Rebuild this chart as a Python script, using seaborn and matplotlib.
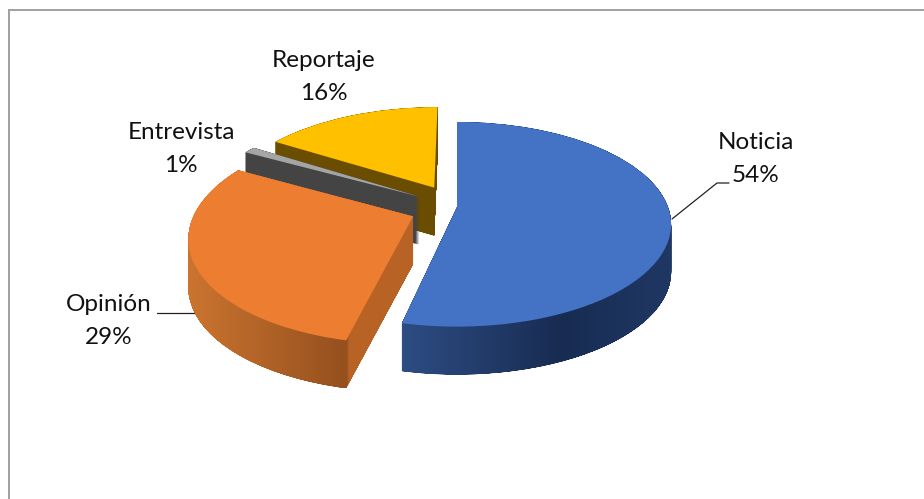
import numpy as np
import matplotlib
matplotlib.use("Agg")
import matplotlib.pyplot as plt
import seaborn as sns
from matplotlib.colors import LinearSegmentedColormap
from matplotlib.path import Path
from matplotlib.transforms import Transform

# chart data
categories = ["Noticia", "Opinión", "Entrevista", "Reportaje"]
values = [53.5, 29.4, 1.0, 16.1]

# styles
top_colors = ["#4472C4", "#ED7D31", "#A5A5A5", "#FFC000"]
explode = [0.0, 0.225, 0.21, 0.23]
radii = [1.0, 1.025, 1.05, 1.01]
draw_order = [3, 2, 1, 0]  # back to front
label_pos = [(756, 159), (109, 321), (181, 149), (324, 77)]
# side colours as (pixel x, colour) stops
side_stops = [
    [(390, "#2F4F87"), (560, "#182C52"), (675, "#1F3864")],
    [(185, "#CC7530"), (347, "#95501E"), (349, "#B86325"), (416, "#B86325")],
    [(230, "#444444"), (420, "#444444")],
    [(260, "#6B4D00"), (445, "#6B4D00")],
]

# picture geometry
CX, CY = 457, 207
A, B = 211, 99.4
K = 0.169
DEPTH = 48 / B


def to_x(px):
    return (px - CX) / A


def to_y(px):
    return (CY - px) / B


class Perspective(Transform):
    input_dims = 2
    output_dims = 2

    def transform_non_affine(self, v):
        v = np.asarray(v, dtype=float)
        w = 1 + K * v[:, 1]
        return np.column_stack([v[:, 0] / w, v[:, 1] / w])


sns.set_theme(style="white")
plt.rcParams["font.family"] = ["Lato", "DejaVu Sans"]

fig = plt.figure(figsize=(9.24, 4.99), dpi=100)
ax = fig.add_axes([9 / 924, 0, 915 / 924, 489 / 499])

wedges, _ = ax.pie(
    values,
    colors=top_colors,
    explode=explode,
    startangle=90,
    counterclock=False,
    wedgeprops={"linewidth": 0},
)

persp = Perspective()
for n, i in enumerate(draw_order):
    wedge = wedges[i]
    wedge.set_radius(radii[i])
    wedge.set_transform(persp + ax.transData)
    wedge.set_zorder(2 * n + 3)

    # side of the slice: the top shape pulled down, filled with a gradient
    top = persp.transform_path(wedge.get_path())
    steps = np.linspace(0, DEPTH, 300)
    side = Path.make_compound_path(
        *[Path(top.vertices - [0, d], top.codes) for d in steps]
    )
    stops = side_stops[i]
    x0, x1 = stops[0][0], stops[-1][0]
    cmap = LinearSegmentedColormap.from_list(
        f"side{i}", [((x - x0) / (x1 - x0), c) for x, c in stops], N=512
    )
    ys = side.vertices[:, 1]
    img = ax.imshow(
        np.linspace(0, 1, 512)[None, :],
        cmap=cmap,
        extent=[to_x(x0), to_x(x1), ys.min(), ys.max()],
        aspect="auto",
        zorder=2 * n + 2,
        interpolation="bilinear",
    )
    img.set_clip_path(side, ax.transData)

ax.set_aspect("auto")
ax.set_xlim(to_x(9), to_x(924))
ax.set_ylim(to_y(499), to_y(10))
ax.set_xticks([])
ax.set_yticks([])
ax.set_frame_on(True)
for name in ["right", "bottom"]:
    ax.spines[name].set_visible(False)
for name in ["left", "top"]:
    ax.spines[name].set_visible(True)
    ax.spines[name].set_color("#A0A0A0")
    ax.spines[name].set_linewidth(1.4)

# leader lines
ax.plot([to_x(672), to_x(717), to_x(729)], [to_y(219), to_y(183), to_y(183)],
        color="#222222", lw=0.9, zorder=20)
ax.plot([to_x(203), to_x(157)], [to_y(313), to_y(313)],
        color="#222222", lw=0.9, zorder=2)

for name, val, (x, y) in zip(categories, values, label_pos):
    ax.text(to_x(x), to_y(y), f"{name}\n{round(val)}%", ha="center", va="center",
            fontsize=17.5, color="#111111", linespacing=1.66, zorder=30)

fig.savefig("out.png", dpi=100)
